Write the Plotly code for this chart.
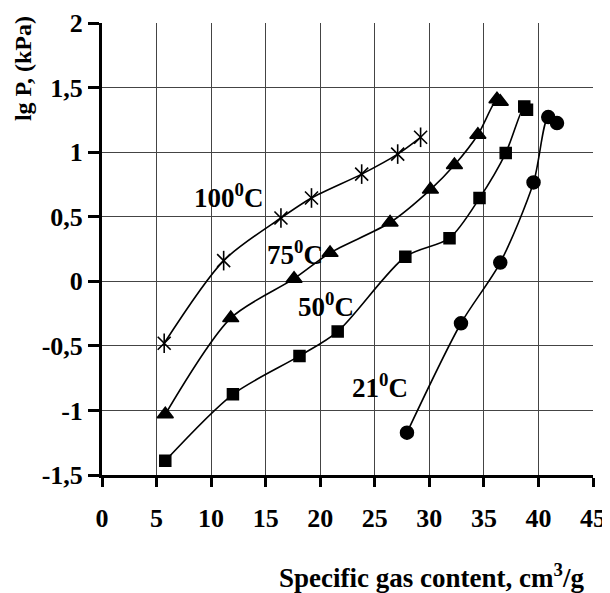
import plotly.graph_objects as go

# 100 °C (asterisks)
x100 = [5.7, 11.15, 16.4, 19.2, 23.8, 27.1, 29.2]
y100 = [-0.48, 0.16, 0.49, 0.645, 0.83, 0.985, 1.115]
# 75 °C (triangles)
x75 = [5.8, 11.8, 17.6, 20.9, 26.4, 30.1, 32.3, 34.45, 36.2, 36.5]
y75 = [-1.03, -0.285, 0.02, 0.22, 0.455, 0.71, 0.9, 1.135, 1.41, 1.39]
# 50 °C (squares)
x50 = [5.8, 12.0, 18.1, 21.6, 27.8, 31.85, 34.6, 37.0, 38.7, 38.95]
y50 = [-1.39, -0.875, -0.578, -0.389, 0.19, 0.334, 0.644, 0.993, 1.354, 1.328]
# 21 °C (circles)
x21 = [27.95, 32.9, 36.5, 39.55, 40.9, 41.7]
y21 = [-1.172, -0.325, 0.145, 0.765, 1.272, 1.225]

curve_labels = ["100<sup>0</sup>C", "75<sup>0</sup>C", "50<sup>0</sup>C", "21<sup>0</sup>C"]
label_x = [11.6, 17.7, 20.5, 25.5]
label_y = [0.66, 0.22, -0.18, -0.81]

x_ticks = [0, 5, 10, 15, 20, 25, 30, 35, 40, 45]
y_ticks = [-1.5, -1, -0.5, 0, 0.5, 1, 1.5, 2]
y_ticktext = ["-1,5", "-1", "-0,5", "0", "0,5", "1", "1,5", "2"]

FONT = "Liberation Serif"
fig = go.Figure()

line = dict(color="black", width=1.6, shape="spline", smoothing=0.8)

def add_series(xs, ys, symbol, size):
    fig.add_trace(go.Scatter(x=xs, y=ys, mode="lines+markers", line=line,
                             marker=dict(symbol=symbol, size=size, color="black",
                                         line=dict(color="black", width=1.5)),
                             showlegend=False, hoverinfo="skip"))

# 100C: six-armed asterisk = x + vertical bar
fig.add_trace(go.Scatter(x=x100, y=y100, mode="lines+markers", line=line,
                         marker=dict(symbol="x-thin-open", size=13, color="black",
                                     line=dict(color="black", width=1.6)),
                         showlegend=False, hoverinfo="skip"))
fig.add_trace(go.Scatter(x=x100, y=y100, mode="markers",
                         marker=dict(symbol="line-ns-open", size=14, color="black",
                                     line=dict(color="black", width=1.6)),
                         showlegend=False, hoverinfo="skip"))
add_series(x75, y75, "triangle-up", 14)
add_series(x50, y50, "square", 11)
add_series(x21, y21, "circle", 13)

for t, lx, ly in zip(curve_labels, label_x, label_y):
    fig.add_annotation(x=lx, y=ly, text=t, showarrow=False,
                       font=dict(family=FONT, size=27, color="black", weight="bold"),
                       xanchor="center", yanchor="middle")

fig.add_annotation(xref="paper", yref="paper", x=-0.162, y=0.899,
                   text="lg P, (kPa)", textangle=-90, showarrow=False,
                   font=dict(family=FONT, size=24, color="black", weight="bold"),
                   xanchor="center", yanchor="middle")
fig.add_annotation(xref="paper", yref="paper", x=0.671, y=-0.2236,
                   text="Specific gas content, cm<sup>3</sup>/g", showarrow=False,
                   font=dict(family=FONT, size=27, color="black", weight="bold"),
                   xanchor="center", yanchor="middle")

tickfont = dict(family=FONT, size=26, color="black", weight="bold")
fig.update_xaxes(range=[0, 45], tickvals=x_ticks, ticktext=[str(v) for v in x_ticks],
                 showgrid=True, gridcolor="#444", gridwidth=1,
                 showline=True, linecolor="black", linewidth=3,
                 ticks="outside", ticklen=9, tickwidth=3, tickcolor="black",
                 ticklabelstandoff=9, automargin=False,
                 tickfont=tickfont, zeroline=False)
fig.update_yaxes(range=[-1.5, 2], tickvals=y_ticks, ticktext=y_ticktext,
                 showgrid=True, gridcolor="#444", gridwidth=1,
                 showline=True, linecolor="black", linewidth=3,
                 ticks="outside", ticklen=11, tickwidth=3, tickcolor="black",
                 automargin=False,
                 tickfont=tickfont, zeroline=False)

# the page adds an 8px body margin, so the figure is drawn 8px smaller
fig.update_layout(width=602, height=585,
                  margin=dict(l=93.5, r=17, t=15.3, b=118),
                  plot_bgcolor="white", paper_bgcolor="white")

fig.write_html("out.html")
